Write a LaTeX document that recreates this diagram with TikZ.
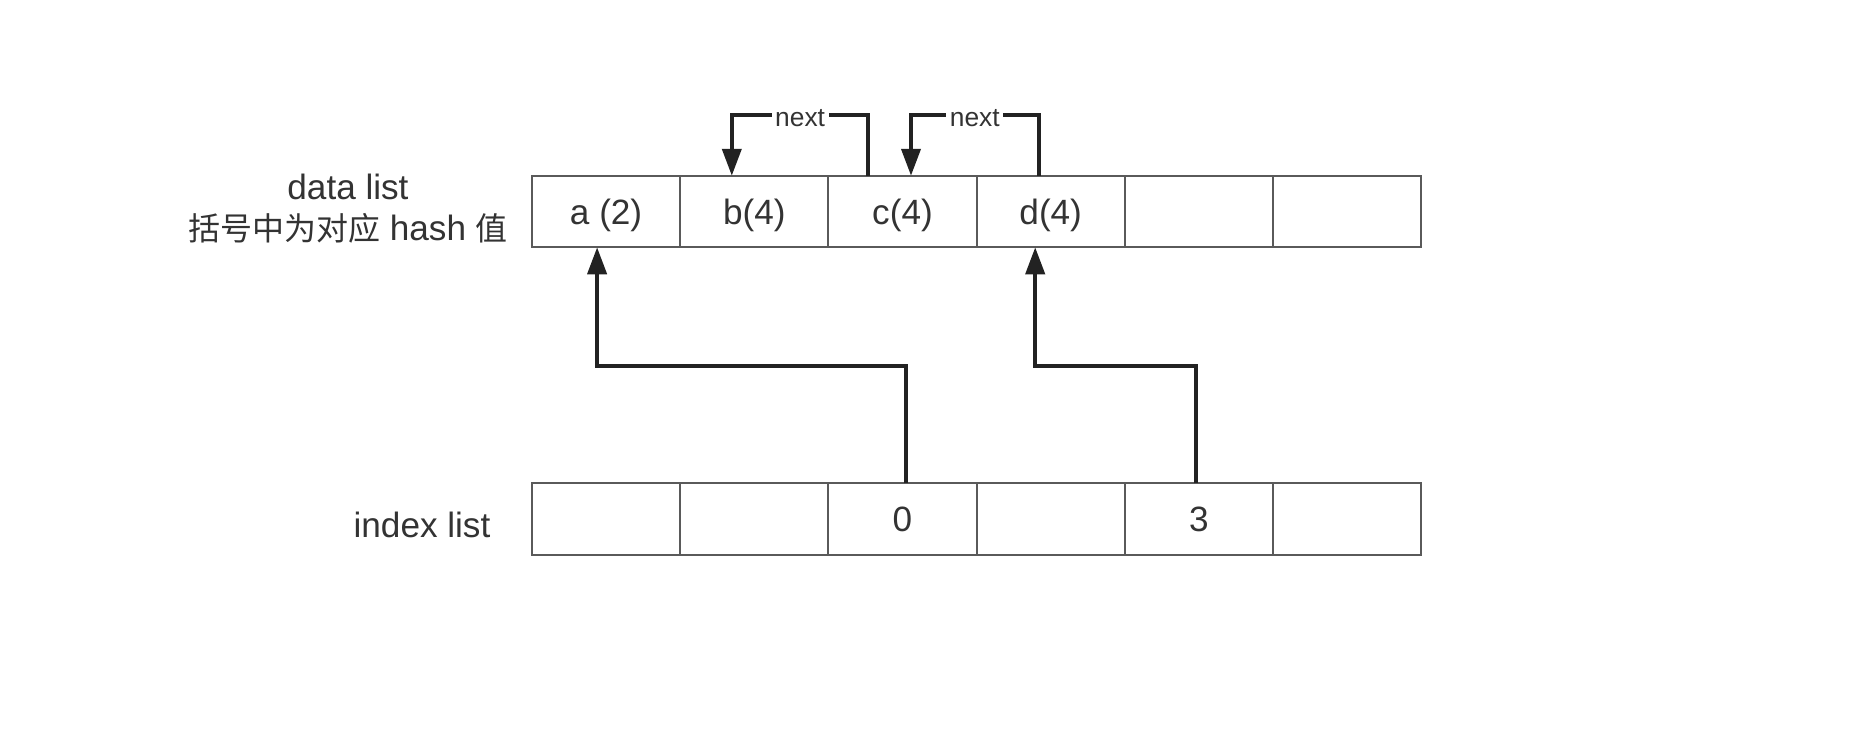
\documentclass[tikz,border=0pt]{standalone}
\usepackage{fontspec}
\setmainfont{Liberation Sans}
\newfontfamily\cjk[Scale=0.91]{Noto Sans CJK SC}
\usepackage{xcolor}
\usetikzlibrary{arrows.meta, positioning}

\definecolor{boxgray}{HTML}{5A5A5A}
\definecolor{txtgray}{HTML}{333333}
\definecolor{linkblack}{HTML}{222222}

\begin{document}
\begin{tikzpicture}[>={Triangle[length=0.27cm, width=0.19cm]}, font=\fontsize{10}{11.5}\selectfont, text=txtgray]

    % --- 1. PARAMETER ---
    \def\cw{1.482} % Zellenbreite
    \def\ch{0.715} % Zellenhoehe
    \def\xo{5.32}  % linker Rand der Listen

    \useasboundingbox (0,0) rectangle (18.62,-7.32);

    \tikzset{
        cell/.style={draw=boxgray, line width=0.55pt, minimum width=\cw cm, minimum height=\ch cm, inner sep=0pt, outer sep=0pt, text height=0.93em, text depth=0.21em},
        link/.style={->, draw=linkblack, line width=1.15pt},
        nextlbl/.style={fill=white, inner sep=1pt, yshift=-0.03cm, font=\fontsize{7.5}{9}\selectfont}
    }

    % --- 2. DATA LIST ---
    \foreach \i/\t in {1/a (2), 2/b(4), 3/c(4), 4/d(4), 5/, 6/}
        \node[cell] (d\i) at ({\xo+(\i-0.5)*\cw}, -2.115) {\t};

    \node[align=center] (dlabel) at (3.48,-2.085) {data list\\{\cjk 括号中为对应} hash {\cjk 值}};

    % --- 3. INDEX LIST ---
    \foreach \i/\t in {1/, 2/, 3/0, 4/, 5/3, 6/}
        \node[cell] (i\i) at ({\xo+(\i-0.5)*\cw}, -5.19) {\t};

    \node (ilabel) at (4.22,-5.25) {index list};

    % --- 4. VERWEISE ---
    % index -> data
    \draw[link] ([xshift=0.035cm]i3.north) -- ++(0,1.17) -| ([xshift=-0.09cm]d1.south);
    \draw[link] ([xshift=-0.03cm]i5.north) -- ++(0,1.17) -| ([xshift=-0.155cm]d4.south);

    % next-Zeiger
    \draw[link] ([xshift=0.4cm]d3.north west) -- ++(0,0.61) -| node[nextlbl, pos=0.25] (n1) {next} ([xshift=-0.225cm]d2.north);
    \draw[link] ([xshift=0.62cm]d4.north west) -- ++(0,0.61) -| node[nextlbl, pos=0.25] (n2) {next} ([xshift=0.085cm]d3.north);

\end{tikzpicture}
\end{document}
